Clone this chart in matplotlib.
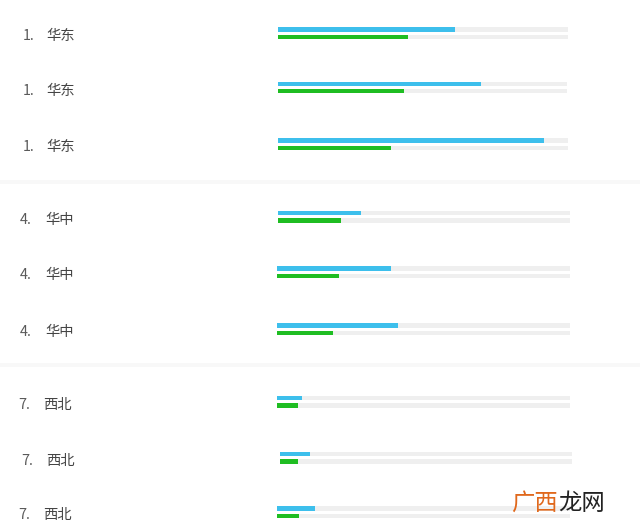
import matplotlib
matplotlib.use("Agg")
import matplotlib.pyplot as plt

plt.rcParams['font.family'] = ['Noto Sans CJK SC', 'DejaVu Sans']

# ---- data ----
ranks = ["1.", "1.", "1.", "4.", "4.", "4.", "7.", "7.", "7."]
regions = ["华东", "华东", "华东", "华中", "华中", "华中", "西北", "西北", "西北"]
blue_values = [61.2, 70.4, 91.8, 28.4, 38.9, 41.4, 8.4, 10.5, 13.1]   # % of track
green_values = [44.7, 43.5, 38.8, 21.6, 21.2, 19.0, 7.2, 6.3, 7.6]    # % of track
watermark = ["广西", "龙网"]

# ---- layout (pixels) ----
W, H = 640, 532
blue_y = [29.5, 83.8, 140.5, 213.0, 268.5, 325.5, 398.0, 454.0, 508.3]
track_x0 = [278, 278, 278, 278, 277, 277, 277, 279.5, 277]
track_len = [290, 289, 290, 292, 293, 293, 293, 292, 293]
rank_x = [22.5, 22.5, 22.5, 20, 20, 20, 18.5, 21.5, 18.5]
name_x = [46, 46, 46, 45, 45, 45, 43.5, 46.5, 43.5]
bar_h = 4.4
gap = 7.4
separators = [(180, 183.5), (363, 367)]

blue = "#3dbfec"
green = "#1fbd22"
track = "#efefef"
text_c = "#5a5a5a"

fig = plt.figure(figsize=(W / 100, H / 100), dpi=100)
ax = fig.add_axes([0, 0, 1, 1])
ax.set_xlim(0, W)
ax.set_ylim(H, 0)
ax.axis("off")

for y0, y1 in separators:
    ax.axhspan(y0, y1, color="#f8f8f8", lw=0, zorder=0)

for i in range(len(regions)):
    yb = blue_y[i]
    yg = yb + gap
    x0 = track_x0[i]
    L = track_len[i]
    ax.barh([yb, yg], [L, L], left=x0, height=bar_h, color=track, zorder=1)
    ax.barh(yb, blue_values[i] / 100 * L, left=x0, height=bar_h, color=blue, zorder=2)
    ax.barh(yg, green_values[i] / 100 * L, left=x0, height=bar_h, color=green, zorder=2)
    ty = yg - 0.5
    ax.text(rank_x[i], ty, ranks[i], fontsize=10.3, color=text_c, va="center", ha="left")
    ax.text(name_x[i], ty, regions[i], fontsize=10.3, color="#444444", va="center", ha="left")

ax.text(511, 503, watermark[0], fontsize=16.8, color="#e0681c", va="center", ha="left", zorder=5)
ax.text(558, 503, watermark[1], fontsize=16.8, color="#222222", va="center", ha="left", zorder=5)

fig.savefig("out.png", dpi=100, facecolor="white")
